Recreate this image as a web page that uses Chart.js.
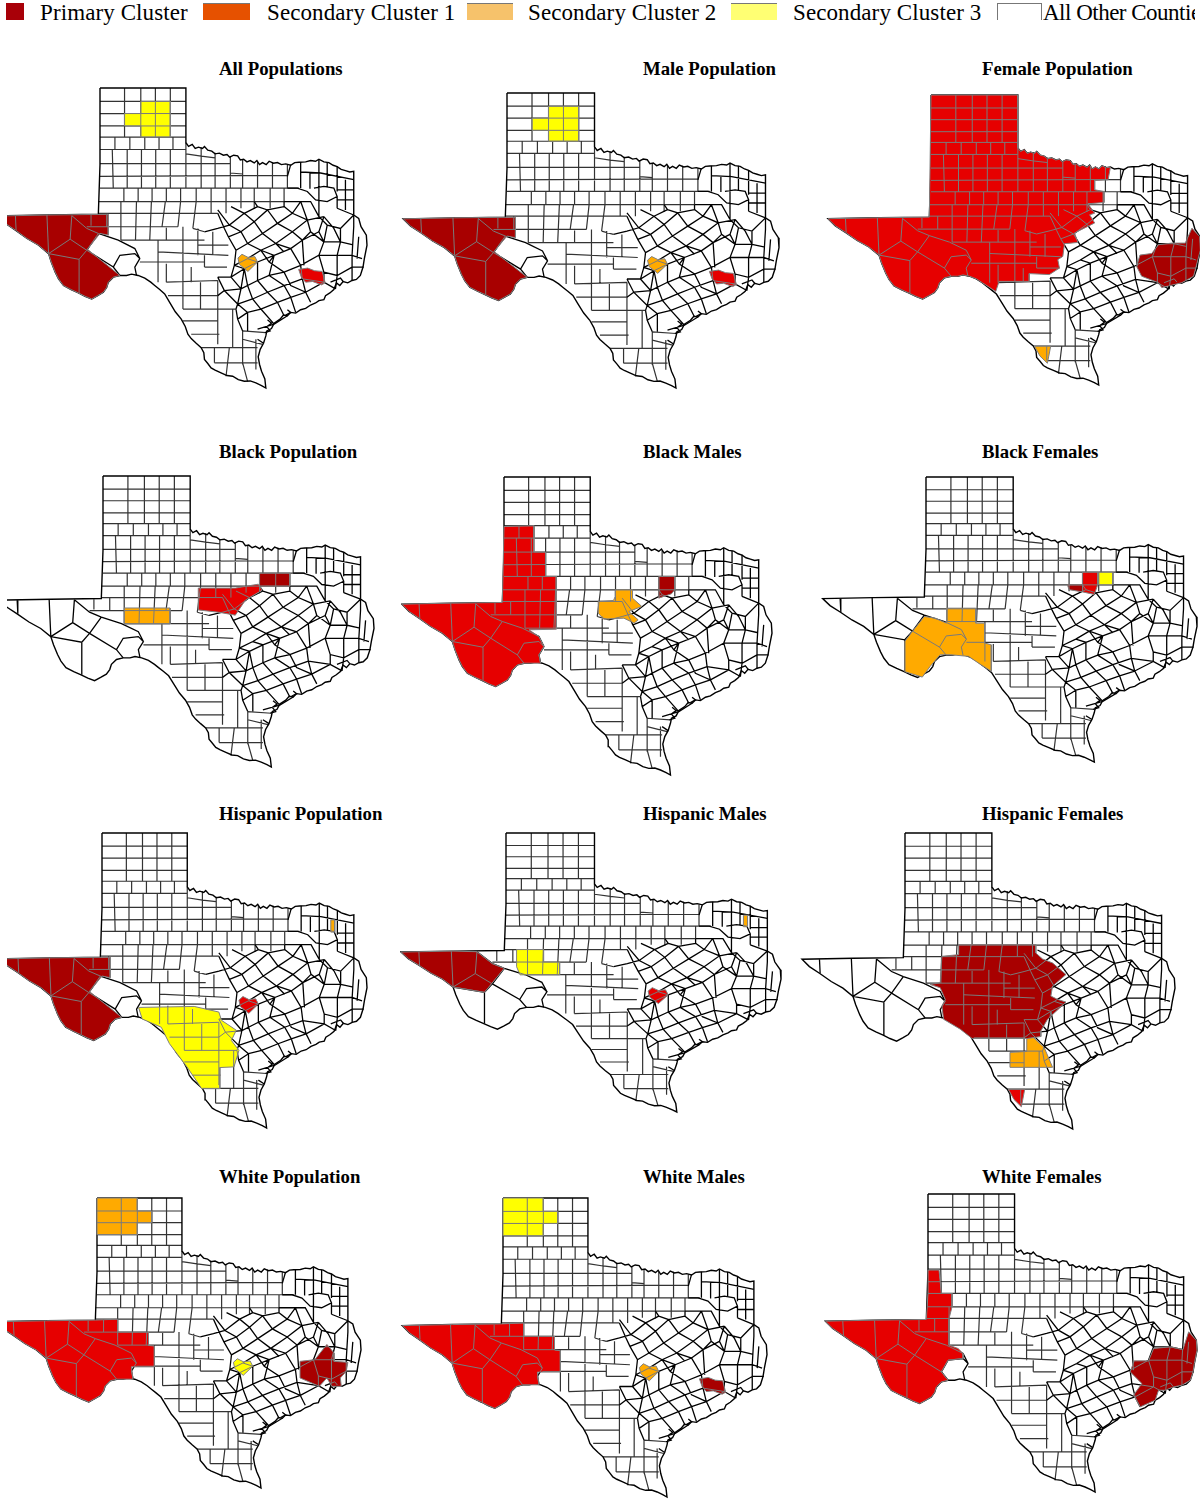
<!DOCTYPE html>
<html>
<head>
<meta charset="utf-8">
<title>Texas clusters</title>
<script src="https://cdn.jsdelivr.net/npm/chart.js@4"></script>
<style>
  html, body { margin: 0; padding: 0; background: #fff; }
  #page { position: relative; width: 1200px; height: 1501px; overflow: hidden; font-family: "Liberation Serif", serif; color: #000; }
  canvas { position: absolute; }
  .title { position: absolute; font-weight: bold; font-size: 18.8px; line-height: 22px; white-space: nowrap; }
  .swatch { position: absolute; box-sizing: border-box; }
  .legendText { position: absolute; top: 1px; font-size: 23px; line-height: 24px; white-space: nowrap; overflow: hidden; }
</style>
</head>
<body>
<div id="page"></div>
<script>
// legend
const legendLabels = ["Primary Cluster", "Secondary Cluster 1", "Secondary Cluster 2", "Secondary Cluster 3", "All Other Counties"];
const legendTextX = [40, 267, 528, 793, 1043];
const legendTextW = [160, 200, 200, 200, 152];
const legendSpacing = [0.1, 0.1, 0.1, 0.1, -0.5];
const legendSwatchX = [6, 203, 467, 731, 997];
const legendSwatchW = [18, 47, 46, 46, 45];
const legendColors = ["#a80008", "#e65100", "#f6c26b", "#ffff73", "#ffffff"];

// panels, in reading order
const panelTitles = ["All Populations", "Male Population", "Female Population",
  "Black Population", "Black Males", "Black Females",
  "Hispanic Population", "Hispanic Males", "Hispanic Females",
  "White Population", "White Males", "White Females"];
const titleX = [219, 643, 982];
const titleY = [58, 441, 803, 1166];

// page px: left edge of canvas, panhandle left, east edge, top, bottom
const panelLeft = [7, 401, 824, 7, 401, 821, 7, 400, 800, 7, 398, 823];
const panhandleX = [100, 507, 931, 103, 504, 926, 102, 506, 905, 97, 503, 928];
const eastX = [367, 779, 1201, 374, 772, 1197, 367, 781, 1175, 361, 767, 1197];
const topY = [88, 93, 95, 476, 477, 477, 833, 833, 833, 1198, 1198, 1194];
const bottomY = [388, 388, 385, 767, 775, 762, 1128, 1112, 1129, 1488, 1497, 1492];

const RED_DARK = "#a80000", RED = "#e60000", ORANGE = "#ffaa00", YELLOW = "#ffff00";

// map units below
const redRiverEdge = [[584,175],[592,186],[603,180],[612,192],[622,188],[634,192],[640,186],[650,197],[662,200],[672,208],[685,206],[697,212],[708,210],[716,218],[728,212],[740,214],[748,226],[758,224],[768,232],[778,228],[790,235],[798,228],[806,240],[815,234],[826,240],[835,230],[848,236],[860,234]];
const bigBendEdge = [[385,570],[365,575],[350,590],[345,606],[335,620],[318,630],[300,640],[280,632],[260,622],[238,612],[215,600],[200,580],[190,560],[178,530],[170,505],[140,480],[105,460],[70,435],[40,415],[18,393]];
const stateOutline = [[325,12],[584,12],...redRiverEdge,[872,240],[885,238],[900,242],[912,234],[925,233],[945,232],[960,228],[975,230],[985,224],[1000,232],[1015,234],[1028,242],[1040,246],[1052,254],[1065,258],[1078,262],[1090,260],[1090,390],[1105,400],[1112,425],[1128,450],[1130,480],[1122,520],[1118,545],[1110,570],[1098,582],[1085,585],[1072,592],[1058,588],[1048,600],[1038,592],[1030,612],[1018,622],[1005,630],[1000,642],[985,645],[975,652],[960,658],[945,668],[930,672],[915,682],[900,680],[890,690],[878,688],[868,700],[850,712],[842,728],[828,735],[825,750],[818,772],[808,790],[802,812],[806,835],[812,855],[822,878],[825,905],[812,898],[795,890],[778,884],[760,885],[742,880],[725,870],[708,868],[690,860],[672,852],[660,845],[650,832],[640,820],[638,800],[630,785],[615,772],[600,758],[590,745],[582,722],[570,700],[552,678],[535,650],[520,625],[505,612],[490,600],[478,590],[460,578],[440,570],[420,566],[405,570],...bigBendEdge,[170,390],[320,388],[325,240],[325,12]];

const gridLines = [
  [[325,52],[584,52]], [[325,88],[584,88]], [[325,125],[584,125]], [[325,158],[584,158]], [[325,195],[584,195]],
  [[325,237],[718,237]], [[325,275],[890,272]], [[325,310],[925,310]], [[320,350],[880,350]], [[320,385],[680,385]],
  [[399,12],[399,158]], [[448,12],[448,158]], [[492,12],[492,158]], [[537,12],[537,158]],
  [[370,158],[370,195]], [[415,158],[415,195]], [[460,158],[460,195]], [[503,158],[503,195]], [[545,158],[545,195]],
  [[362,195],[365,310]], [[407,195],[407,310]], [[450,195],[450,310]], [[493,195],[493,310]], [[537,195],[537,310]], [[584,175],[584,310]],
  [[630,188],[630,310]], [[672,205],[672,310]], [[718,215],[718,310]], [[755,225],[755,310]], [[800,232],[800,310]], [[845,232],[845,310]], [[890,240],[890,310]],
  [[584,208],[630,215]], [[630,215],[672,220]], [[718,265],[755,268]],
  [[397,310],[397,350]], [[440,310],[440,350]], [[482,310],[482,350]], [[525,310],[525,350]], [[568,310],[568,350]], [[615,310],[615,350]], [[660,310],[660,350]], [[705,310],[705,350]], [[750,310],[750,350]], [[790,310],[790,350]], [[838,310],[838,350]], [[880,310],[880,350]],
  [[388,350],[388,465]], [[435,350],[432,465]], [[480,350],[475,465]], [[522,350],[512,425]], [[568,350],[560,425]], [[615,350],[605,430]], [[660,350],[660,385]], [[705,350],[705,385]], [[750,350],[750,370]], [[790,350],[790,372]], [[838,350],[838,370]],
  [[345,385],[345,425]], [[298,390],[298,422]], [[285,425],[560,425]], [[605,430],[640,440]], [[525,428],[525,465]], [[388,465],[640,465]],
  [[500,465],[500,590]], [[575,425],[575,535]], [[620,430],[620,510]], [[665,440],[665,510]], [[620,480],[712,480]], [[500,500],[712,510]], [[445,530],[640,530]], [[640,510],[640,545]], [[640,545],[708,545]],
  [[525,535],[525,590]], [[575,535],[575,590]], [[600,545],[600,590]], [[525,590],[680,585]],
  [[575,590],[575,670]], [[628,590],[628,670]], [[530,630],[680,630]], [[680,585],[680,775]], [[575,670],[735,670]], [[575,705],[680,705]], [[600,745],[685,745]], [[725,670],[725,785]],
  [[630,785],[800,785]], [[670,785],[670,830]], [[715,785],[705,870]], [[755,735],[755,835]], [[670,830],[800,830]], [[755,830],[770,885]], [[795,760],[795,850]], [[755,760],[815,775]], [[755,735],[825,740]]
];

// trans-pecos lines and the tilted counties of the centre and east
const countyLines = [
  [[70,393],[72,435]], [[165,390],[170,505]], [[240,392],[235,462]], [[170,505],[235,462],[285,495],[320,445]],
  [[170,505],[262,522],[285,495]], [[262,522],[262,622]], [[240,392],[285,430],[320,445],[380,465],[430,490],[445,520]],
  [[285,495],[365,545],[385,570]], [[365,545],[385,510],[430,505],[445,520],[430,545],[435,570]],
  [[640,440],[680,430],[715,420],[760,385],[800,365]],
  [[712,455],[750,440],[790,410],[830,375],[880,365]],
  [[735,495],[770,475],[815,445],[860,415],[905,385],[930,350]],
  [[730,540],[770,520],[810,495],[855,475],[905,440],[950,405],[1000,395]],
  [[680,575],[720,575],[760,550],[800,530],[850,510],[900,490],[935,465],[985,440]],
  [[700,615],[750,610],[800,585],[835,570],[880,560],[930,540]],
  [[740,655],[785,640],[830,620],[880,600],[935,580]],
  [[770,680],[810,670],[860,650],[900,635],[945,620]],
  [[680,375],[715,420],[750,440],[770,475],[810,495],[835,530],[880,560],[900,600],[945,620],[960,650]],
  [[720,365],[760,385],[790,410],[815,445],[855,475],[880,500]],
  [[800,365],[830,375],[860,415],[905,440],[935,465],[940,540]],
  [[680,385],[700,430],[712,455],[735,495],[730,540],[760,550],[770,600],[785,640],[810,670],[850,715]],
  [[770,520],[800,530],[800,585],[830,620],[860,650],[880,690]],
  [[810,495],[850,510],[835,570],[880,600],[900,635],[915,680]],
  // cross ties
  [[880,365],[905,385],[950,405],[960,440]], [[730,540],[720,575],[750,610],[740,655],[770,680]], [[680,575],[700,615],[740,655]],
  [[855,475],[900,490],[930,540],[935,580],[945,620]], [[880,350],[880,365]], [[760,550],[750,610]], [[835,530],[850,510]],
  [[680,630],[700,615]], [[735,670],[740,655]], [[800,365],[790,350]], [[930,350],[950,405]],
  // north east
  [[880,350],[930,350],[960,350],[985,395]],
  [[890,310],[920,310],[950,320],[975,345],[1010,350],[1040,335],[1030,310],[1000,305],[970,310]],
  [[900,240],[890,275]], [[930,232],[930,310]], [[985,225],[985,395]], [[1040,245],[1040,320]], [[1010,232],[1010,305]], [[958,262],[958,312]],
  [[930,262],[990,265],[1090,285]], [[1040,315],[1090,315]], [[1040,345],[1090,345]], [[1040,370],[1090,390]], [[1065,285],[1065,375]], [[1040,335],[1040,370]],
  [[985,395],[1010,420],[1050,430],[1090,390]], [[950,405],[960,440],[1000,470]],
  [[1000,395],[1030,430],[1050,470],[1040,510],[1085,510],[1115,520]], [[1050,430],[1050,470]], [[1010,420],[1000,470]],
  [[1090,390],[1090,425],[1085,510],[1085,545],[1120,545]], [[985,440],[1000,470],[985,510],[1040,510]], [[1000,470],[1050,470]], [[985,440],[1000,395]],
  [[935,465],[960,440]], [[1050,470],[1085,478]], [[1105,455],[1100,520]], [[1040,510],[1040,570]], [[1000,560],[1000,590]], [[1040,570],[1035,610]], [[1085,545],[1085,585]],
  [[930,540],[985,510],[1000,560],[1040,570],[1085,545]], [[935,580],[1000,590],[1035,610]], [[945,620],[1000,590]], [[1020,590],[1050,578],[1058,588]],
  // coast
  [[850,715],[890,690]], [[800,730],[850,715]], [[770,680],[770,735]], [[740,700],[770,680]], [[735,670],[740,700],[755,735]],
  [[830,702],[842,712],[828,722],[838,735],[822,740]], [[890,672],[900,680],[885,688]], [[800,760],[818,772]]
];

// cluster regions
const westSix = [[18,393],[170,390],[350,388],[350,450],[325,445],[287,492],...bigBendEdge];
const panhandleMid = [[399,88],[448,88],[448,52],[537,52],[537,158],[448,158],[448,125],[399,125]];
const centralHeart = [[741,518],[753,507],[771,516],[792,514],[800,530],[771,558],[745,537]];
const harrisArea = [[924,552],[951,548],[972,556],[995,558],[1004,592],[993,598],[966,588],[945,590],[932,575]];
const femaleRed = [[325,12],[584,12],...redRiverEdge,[853,273],[813,275],[813,304],[841,309],[841,343],[793,347],[813,376],[798,381],[813,406],[753,437],[763,466],[723,470],[718,509],[703,519],[708,545],[678,565],[618,562],[618,586],[528,586],[518,617],[478,590],[460,578],[440,570],[420,566],[405,570],...bigBendEdge,[170,390],[320,388]];
const femaleEast = [[1103,422],[1126,448],[1128,490],[1118,530],[1108,570],[1073,590],[1033,600],[1013,605],[1003,590],[953,570],[938,540],[948,505],[983,500],[1003,473],[1043,468],[1083,468]];
const starrArea = [[633,785],[682,785],[672,838],[650,816]];
const blackDallas = [[790,310],[880,310],[880,350],[790,350]];
const blackCentral = [[608,356],[718,356],[786,344],[798,362],[748,393],[718,439],[668,430],[608,423]];
const blackPecosRow = [[388,417],[524,417],[524,466],[388,466]];
const blackMaleRed = [[325,160],[415,158],[415,237],[450,237],[450,310],[482,310],[482,468],[400,470],[430,490],[445,520],[430,545],[435,570],...bigBendEdge,[170,390],[320,388]];
const blackMaleDark = [[790,310],[838,310],[838,350],[828,362],[790,375]];
const blackMaleOrange = [[659,350],[711,350],[711,375],[739,400],[700,415],[728,440],[716,450],[685,435],[624,438],[608,420],[608,385],[654,382],[659,370]];
const blackFemaleDark = [[745,350],[790,350],[790,372],[750,365]];
const blackFemaleRed = [[790,310],[835,310],[835,350],[825,380],[790,372]];
const blackFemaleYellow = [[838,310],[880,310],[880,350],[838,350]];
const blackFemaleOrange = [[386,423],[473,423],[473,470],[499,470],[499,532],[519,538],[519,621],[488,600],[451,574],[398,569],[367,569],[337,606],[314,639],[262,622],[262,527],[285,495],[320,449],[352,454],[386,470]];
const hispanicSouth = [[436,540],[605,537],[680,554],[688,579],[733,609],[718,640],[741,670],[726,720],[683,722],[683,786],[628,786],[583,720],[530,650],[505,600],[447,575]];
const bowieSliver = [[1020,275],[1032,275],[1032,312],[1020,312]];
const hispanicMaleDark = [[18,393],[170,390],[240,392],[285,430],[320,445],[262,522],[170,505],[140,480],[105,460],[70,435],[40,415]];
const hispanicMaleYellow = [[356,385],[435,385],[435,425],[482,425],[482,466],[366,466],[356,440]];
const hispanicFemaleDark = [[485,349],[715,349],[715,374],[735,392],[765,404],[805,439],[765,474],[760,504],[780,514],[805,522],[750,574],[730,609],[730,626],[690,632],[525,632],[490,604],[440,574],[435,534],[445,514],[430,479],[400,469],[430,464],[435,384],[485,379]];
const hispanicFemaleOrange = [[688,624],[705,626],[740,659],[765,719],[638,719],[638,674],[688,671]];
const northWestBlock = [[325,12],[448,12],[448,52],[492,52],[492,88],[448,88],[448,125],[325,125]];
const whiteWest = [[320,388],[388,385],[388,425],[482,425],[482,466],[500,468],[500,532],[430,532],[435,570],...bigBendEdge,[170,390]];
const whiteEast = [[944,515],[989,510],[1026,463],[1048,489],[1048,515],[1090,518],[1085,546],[1067,566],[1070,592],[1041,592],[1026,566],[1003,592],[944,566]];
const whiteFemaleWest = [[320,388],[325,310],[325,240],[358,240],[365,310],[397,310],[397,350],[388,385],[388,465],[415,475],[430,490],[430,505],[385,510],[365,545],...bigBendEdge,[170,390]];
const whiteFemaleEast = [[1105,425],[1128,450],[1130,480],[1122,520],[1118,545],[1110,570],[1085,585],[1060,590],[1035,600],[1015,600],[1005,630],[960,650],[940,615],[965,580],[930,545],[942,512],[985,512],[1000,475],[1050,470],[1088,478]];

const panelClusters = [
  [[westSix, RED_DARK], [panhandleMid, YELLOW], [centralHeart, ORANGE], [harrisArea, RED]],
  [[westSix, RED_DARK], [panhandleMid, YELLOW], [centralHeart, ORANGE], [harrisArea, RED]],
  [[femaleRed, RED], [femaleEast, RED_DARK], [starrArea, ORANGE]],
  [[blackDallas, RED_DARK], [blackCentral, RED], [blackPecosRow, ORANGE]],
  [[blackMaleRed, RED], [blackMaleDark, RED_DARK], [blackMaleOrange, ORANGE]],
  [[blackFemaleDark, RED_DARK], [blackFemaleRed, RED], [blackFemaleYellow, YELLOW], [blackFemaleOrange, ORANGE]],
  [[westSix, RED_DARK], [hispanicSouth, YELLOW], [centralHeart, RED], [bowieSliver, ORANGE]],
  [[hispanicMaleDark, RED_DARK], [hispanicMaleYellow, YELLOW], [centralHeart, RED], [bowieSliver, ORANGE]],
  [[hispanicFemaleDark, RED_DARK], [hispanicFemaleOrange, ORANGE], [starrArea, RED]],
  [[whiteWest, RED], [whiteEast, RED_DARK], [northWestBlock, ORANGE], [centralHeart, YELLOW]],
  [[whiteWest, RED], [harrisArea, RED_DARK], [northWestBlock, YELLOW], [centralHeart, ORANGE]],
  [[whiteFemaleWest, RED], [whiteFemaleEast, RED_DARK]]
];

function toPoints(lines) {
  const pts = [];
  lines.forEach(line => {
    line.forEach(p => pts.push({ x: p[0], y: p[1] }));
    pts.push({ x: NaN, y: NaN });
  });
  return pts;
}

// grey county lines inside a filled cluster
const clusterLinesPlugin = {
  id: "clusterLines",
  afterDatasetsDraw(chart) {
    const ctx = chart.ctx;
    chart.data.datasets.forEach((ds, i) => {
      if (!ds.isCluster) return;
      const region = chart.getDatasetMeta(i).data;
      ctx.save();
      ctx.beginPath();
      region.forEach((p, k) => (k ? ctx.lineTo(p.x, p.y) : ctx.moveTo(p.x, p.y)));
      ctx.closePath();
      ctx.clip();
      ctx.strokeStyle = "#7a7a7a";
      ctx.lineWidth = 1;
      chart.data.datasets.forEach((other, j) => {
        if (!other.isCounty) return;
        ctx.beginPath();
        let pen = false;
        chart.getDatasetMeta(j).data.forEach(p => {
          if (p.skip) { pen = false; return; }
          pen ? ctx.lineTo(p.x, p.y) : ctx.moveTo(p.x, p.y);
          pen = true;
        });
        ctx.stroke();
      });
      ctx.restore();
    });
  }
};

function lineDataset(lines, color, width, order) {
  return { data: toPoints(lines), showLine: true, pointRadius: 0, borderColor: color, borderWidth: width, fill: false, order, isCounty: order > 2, spanGaps: false, tension: 0 };
}

function drawPanel(page, i) {
  const sx = (eastX[i] - panhandleX[i]) / 805;
  const sy = (bottomY[i] - topY[i]) / 893;
  const left = panelLeft[i];
  const right = Math.min(eastX[i] + 3, 1200);
  const top = topY[i] - 3;
  const bottom = bottomY[i] + 3;

  const canvas = document.createElement("canvas");
  canvas.width = right - left;
  canvas.height = bottom - top;
  canvas.style.left = left + "px";
  canvas.style.top = top + "px";
  page.appendChild(canvas);

  const clusters = panelClusters[i].map(([region, color]) => ({
    data: region.concat([region[0]]).map(p => ({ x: p[0], y: p[1] })),
    showLine: true, pointRadius: 0, borderColor: "#808080", borderWidth: 1,
    backgroundColor: color, fill: "shape", order: 1, isCluster: true, tension: 0
  }));

  new Chart(canvas.getContext("2d"), {
    type: "scatter",
    data: {
      datasets: [
        lineDataset(gridLines, "#333333", 1.2, 5),
        lineDataset(countyLines, "#000000", 1.3, 4),
        lineDataset([stateOutline], "#000000", 1.4, 2)
      ].concat(clusters)
    },
    options: {
      responsive: false,
      animation: false,
      layout: { padding: 0 },
      plugins: { legend: { display: false }, tooltip: { enabled: false } },
      scales: {
        x: { type: "linear", display: false, min: 325 - (panhandleX[i] - left) / sx, max: 325 + (right - panhandleX[i]) / sx },
        y: { type: "linear", display: false, reverse: true, min: 12 - 3 / sy, max: 905 + 3 / sy }
      }
    },
    plugins: [clusterLinesPlugin]
  });
}

document.addEventListener("DOMContentLoaded", () => {
  const page = document.getElementById("page");

  legendLabels.forEach((label, i) => {
    const sw = document.createElement("div");
    sw.className = "swatch";
    sw.style.cssText = `left:${legendSwatchX[i]}px;top:3px;width:${legendSwatchW[i]}px;height:17px;background:${legendColors[i]};`
      + (i ? "border-top:1px solid #777;" : "") + (i == 4 ? "border-left:1px solid #777;border-right:1px solid #777;" : "");
    page.appendChild(sw);
    const txt = document.createElement("div");
    txt.className = "legendText";
    txt.style.left = legendTextX[i] + "px";
    txt.style.width = legendTextW[i] + "px";
    txt.style.letterSpacing = legendSpacing[i] + "px";
    txt.textContent = label;
    page.appendChild(txt);
  });

  panelTitles.forEach((title, i) => {
    const t = document.createElement("div");
    t.className = "title";
    t.style.left = titleX[i % 3] + "px";
    t.style.top = titleY[Math.floor(i / 3)] + "px";
    t.textContent = title;
    page.appendChild(t);
    drawPanel(page, i);
  });
});
</script>
</body>
</html>
